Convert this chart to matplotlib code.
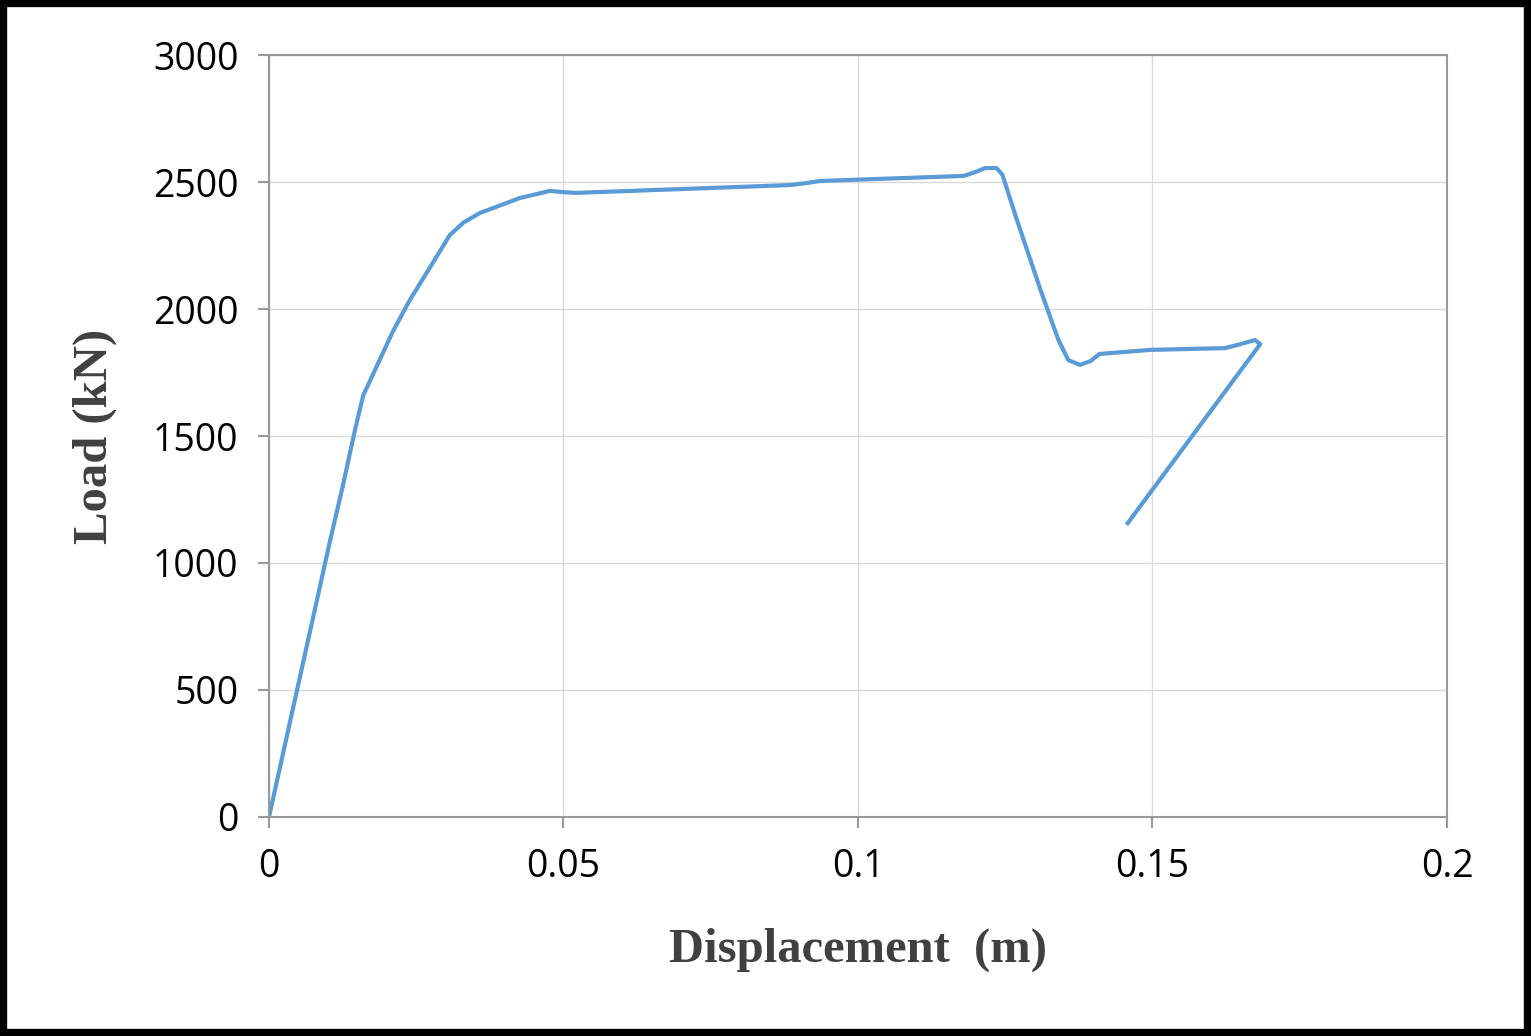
import matplotlib
matplotlib.use("Agg")
import matplotlib.pyplot as plt
from matplotlib.patches import Rectangle

disp = [0, 0.0104, 0.0125, 0.0146, 0.016, 0.018, 0.021, 0.0239, 0.0275, 0.0307, 0.0330,
        0.0358, 0.0426, 0.0477, 0.050, 0.052,
        0.0885, 0.091, 0.0935, 0.118, 0.120, 0.1216, 0.1235, 0.1245, 0.127, 0.131,
        0.134, 0.1357, 0.1377, 0.1395, 0.141,
        0.1496, 0.1623, 0.165, 0.1674, 0.1683, 0.1458]
load = [0, 1091, 1300, 1524, 1660, 1760, 1910, 2035, 2170, 2291, 2340,
        2378, 2437, 2465, 2460, 2457,
        2488, 2495, 2504, 2524, 2540, 2555, 2555, 2530, 2350, 2075,
        1880, 1799, 1780, 1795, 1823,
        1839, 1846, 1862, 1878, 1862, 1157]
xticks = [0, 0.05, 0.1, 0.15, 0.2]
xticklabels = ["0", "0.05", "0.1", "0.15", "0.2"]
yticks = [0, 500, 1000, 1500, 2000, 2500, 3000]

fig = plt.figure(figsize=(15.31, 10.36), dpi=100)
fig.patches.append(Rectangle((0.002, 0.003), 0.996, 0.994, transform=fig.transFigure,
                             fill=False, edgecolor="black", linewidth=6))
ax = fig.add_axes([0.1757, 0.2114, 0.7694, 0.7355])
ax.plot(disp, load, color="#5b9bd5", linewidth=3, solid_joinstyle="round")
ax.set_xlim(0, 0.2)
ax.set_ylim(0, 3000)
ax.set_xticks(xticks)
ax.set_xticklabels(xticklabels)
ax.set_yticks(yticks)
ax.grid(True, color="#d9d9d9", linewidth=1)
for s in ax.spines.values():
    s.set_color("#999999")
    s.set_linewidth(1.5)
ax.tick_params(labelsize=27, colors="black", length=8, color="#999999", width=1.5, pad=14)
for lab in ax.get_xticklabels() + ax.get_yticklabels():
    lab.set_family("Open Sans")
ax.set_xlabel("Displacement  (m)", fontsize=35, fontweight="bold",
              family="Liberation Serif", color="#404040", labelpad=30)
ax.set_ylabel("Load (kN)", fontsize=35, fontweight="bold",
              family="Liberation Serif", color="#404040", labelpad=26)
fig.savefig("out.png", dpi=100)
